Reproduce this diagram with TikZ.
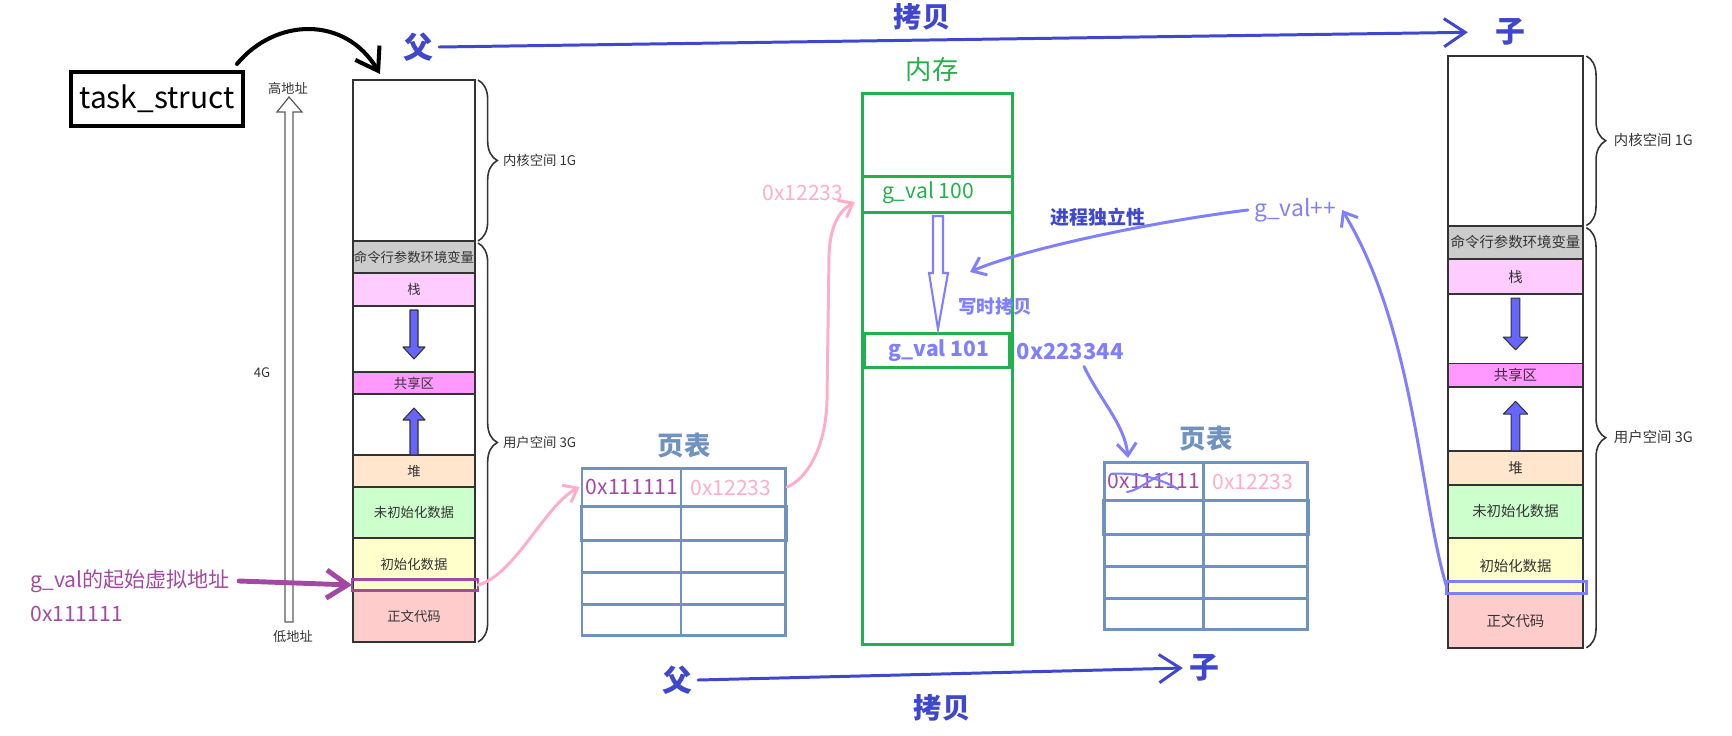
\documentclass[tikz,border=0pt]{standalone}
\usepackage{fontspec}
\setmainfont{Noto Sans CJK SC}
\usetikzlibrary{arrows.meta,decorations.pathreplacing}

\definecolor{indigo}{RGB}{63,72,204}
\definecolor{lav}{RGB}{128,128,255}
\definecolor{gvpurple}{RGB}{163,73,164}
\definecolor{pinky}{RGB}{255,174,201}
\definecolor{memgreen}{RGB}{34,177,76}
\definecolor{tblblue}{RGB}{112,146,190}
\definecolor{segline}{RGB}{51,51,51}
\definecolor{cmdgray}{RGB}{204,204,204}
\definecolor{stackpink}{RGB}{255,204,255}
\definecolor{sharedpink}{RGB}{255,153,255}
\definecolor{heapbeige}{RGB}{255,230,204}
\definecolor{bssgreen}{RGB}{204,255,204}
\definecolor{datayellow}{RGB}{255,255,204}
\definecolor{textrose}{RGB}{255,204,204}
\definecolor{blockblue}{RGB}{102,102,255}

\newcommand\fsz[1]{\fontsize{#1}{#1}\selectfont}

\begin{document}
\begin{tikzpicture}[x=0.02cm,y=-0.02cm,
    seg/.style={draw=segline,line width=1.1pt},
    seglbl/.style={text=segline,inner sep=1pt},
    blockarr/.style={draw=segline,fill=blockblue,line width=0.6pt,line join=round},
    brc/.style={draw=segline,line width=0.9pt,decorate,decoration={brace,amplitude=11pt}},
    hand/.style={line width=1.7pt,line cap=round,line join=round},
    barb/.style={-{Straight Barb[length=7pt,width=11pt]}},
    bigbarb/.style={-{Straight Barb[length=12pt,width=16pt]}},
    tbl/.style={draw=tblblue,line width=1.7pt},
    memline/.style={draw=memgreen,line width=1.7pt},
    fuzi/.style={font=\fsz{17}\bfseries,text=indigo},
    copylbl/.style={font=\fsz{16}\bfseries,text=indigo},
    hex/.style={font=\fsz{12}},
    bluebold/.style={font=\fsz{12}\bfseries,text=lav}]
  \useasboundingbox (0,0) rectangle (1732,735);

  % task_struct
  \node[draw,line width=2.3pt,minimum width=3.44cm,minimum height=1.08cm,font=\fsz{17}] (ts) at (157,99) {task\_struct};

  % address spaces: parent (L) and child (R)
  \foreach \nm/\sx/\sy/\kx/\ky/\fs/\hc in {L/353/80/1/1/7.6/gvpurple,R/1448/56/1.107/1.053/8.2/lav} {
    \begin{scope}[shift={(\sx,\sy)},xscale=\kx,yscale=\ky,font=\fsz{\fs}]
      \foreach \t/\b/\c/\l in {0/161/white/{},161/193/cmdgray/命令行参数环境变量,193/226/stackpink/栈,226/292/white/{},292/314/sharedpink/共享区,314/375/white/{},375/407/heapbeige/堆,407/458/bssgreen/未初始化数据,458/511/datayellow/初始化数据,511/562/textrose/正文代码} {
        \draw[seg,fill=\c] (0,\t) rectangle (122,\b);
        \node[seglbl] (\nm-s\t) at (61,{(\t+\b)/2}) {\l};
      }
      \draw[blockarr] (57,230) -- (65,230) -- (65,267) -- (72,267) -- (61,279) -- (50,267) -- (57,267) -- cycle;
      \draw[blockarr] (57,375) -- (57,340) -- (50,340) -- (61,328) -- (72,340) -- (65,340) -- (65,375) -- cycle;
      \draw[brc] (125,0) -- (125,161);
      \draw[brc] (125,163) -- (125,562);
      \node[seglbl,anchor=west] (\nm-kern) at (148,80) {内核空间 1G};
      \node[seglbl,anchor=west] (\nm-user) at (148,362) {用户空间 3G};
      \draw[\hc,line width=1.7pt] (-1,499) rectangle (125,510);
      \coordinate (\nm-hlw) at (-1,505);
      \coordinate (\nm-hle) at (125,505);
      \coordinate (\nm-top) at (27,-6);
    \end{scope}
  }

  % 4G axis
  \draw[draw=segline!80,fill=white,line width=0.7pt] (285,622) -- (285,112) -- (277,112) -- (289,97) -- (302,112) -- (293,112) -- (293,622) -- cycle;
  \node[font=\fsz{7.5},text=segline] (hi) at (288,88) {高地址};
  \node[font=\fsz{7.5},text=segline] (lo) at (293,637) {低地址};
  \node[font=\fsz{7.5},text=segline] (fourg) at (262,373) {4G};

  \node[hex,text=gvpurple,anchor=west,inner sep=0pt] (gvaddr) at (30,581) {g\_val的起始虚拟地址};
  \node[hex,text=gvpurple,anchor=west,inner sep=0pt] (gvhex) at (30,614) {0x111111};

  % parent -> child
  \node[fuzi] (pfu) at (418,47) {父};
  \node[fuzi] (pzi) at (1510,32) {子};
  \node[copylbl] (pcopy) at (922,17) {拷贝};
  \node[fuzi] (cfu) at (677,680) {父};
  \node[fuzi] (czi) at (1204,668) {子};
  \node[copylbl] (ccopy) at (942,708) {拷贝};

  % memory
  \node[font=\fsz{15},text=memgreen] (memtitle) at (932,70) {内存};
  \draw[memline] (862,93) rectangle (1012,644);
  \draw[memline] (862,176) -- (1012,176) (862,212) -- (1012,212);
  \draw[memline] (864,333) rectangle (1009,367);
  \node[hex,text=memgreen] (gv100) at (928,193) {g\_val 100};
  \node[bluebold] (gv101) at (939,351) {g\_val 101};
  \draw[lav,line width=1.2pt] (933,216) -- (943,216) -- (943,273) -- (948,273) -- (938,329) -- (929,273) -- (933,273) -- cycle;
  \node[hex,text=pinky] (hexpa) at (803,193) {0x12233};
  \node[font=\fsz{10.5}\bfseries,text=lav] (cow) at (995,306) {写时拷贝};
  \node[font=\fsz{12.5}\bfseries,text=lav] (newhex) at (1070,352) {0x223344};
  \node[font=\fsz{10.8}\bfseries,text=indigo] (indep) at (1098,217) {进程独立性};
  \node[font=\fsz{13},text=lav] (gvinc) at (1295,210) {g\_val++};
  \coordinate (cowtip) at (970,272);
  \coordinate (m100in) at (855,202);

  % page tables
  \foreach \tn/\tx/\ty in {P/582/468,C/1104/462} {
    \begin{scope}[shift={(\tx,\ty)}]
      \node[font=\fsz{15}\bfseries,text=tblblue] (\tn-title) at (102,-23) {页表};
      \foreach \r in {38,72,104,136} \draw[tbl] (0,\r) -- (203,\r);
      \draw[tbl] (0,0) rectangle (203,167) (99,0) -- (99,167);
      \draw[tbl] (-1,38) rectangle (204,72);
      \node[hex,text=gvpurple] (\tn-va) at (50,19) {0x111111};
      \node[hex,text=pinky] (\tn-pa) at (149,20) {0x12233};
      \coordinate (\tn-e) at (205,19);
      \coordinate (\tn-nw) at (24,-4);
    \end{scope}
  }
  \draw[lav,line width=1.2pt,line cap=round] (1111,474) .. controls (1135,472) and (1160,478) .. (1178,489);
  \draw[lav,line width=1.2pt,line cap=round] (1167,473) .. controls (1150,478) and (1140,490) .. (1127,492);

  % connectors
  \draw[hand,line width=2.3pt,bigbarb] ([shift={(-8,-6)}]ts.north east) .. controls (275,18) and (345,15) .. (L-top);
  \draw[hand,gvpurple,line width=2.8pt,bigbarb] ([xshift=5pt]gvaddr.east) -- (L-hlw);
  \draw[hand,indigo,bigbarb,shorten >=12pt] (pfu.east) -- (pzi.west);
  \draw[hand,indigo,bigbarb] (cfu.east) -- (czi.west);
  \draw[hand,pinky,barb] (L-hle) .. controls (515,575) and (545,505) .. (P-va.west);
  \draw[hand,pinky,barb] (P-e) .. controls (805,480) and (826,450) .. (827,400) -- (829,255) .. controls (830,225) and (840,210) .. (m100in);
  \draw[hand,lav,barb] ([xshift=8pt]newhex.south) .. controls (1100,400) and (1125,425) .. (C-nw);
  \draw[hand,lav,barb] (gvinc.west) .. controls (1150,222) and (1020,250) .. (cowtip);
  \draw[hand,lav,barb] (R-hlw) .. controls (1420,500) and (1415,330) .. (gvinc.east);
\end{tikzpicture}
\end{document}
